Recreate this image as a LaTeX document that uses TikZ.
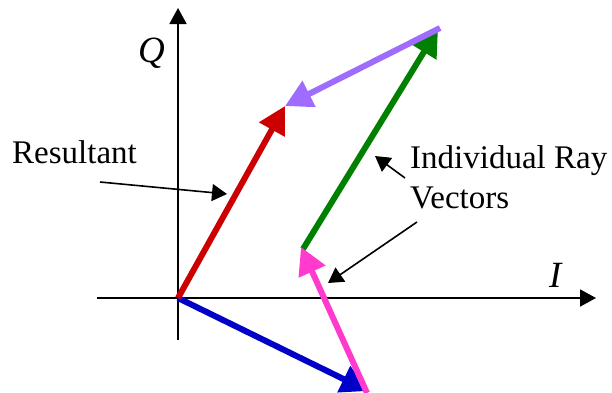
\documentclass[tikz,border=0pt]{standalone}
\usepackage{fontspec}
\setmainfont{Liberation Serif}
\usepackage{xcolor}
\usetikzlibrary{arrows.meta}
\definecolor{resred}{RGB}{204,0,0}
\definecolor{raypurple}{RGB}{160,108,255}
\definecolor{raygreen}{RGB}{0,128,0}
\definecolor{raypink}{RGB}{255,58,205}
\definecolor{rayblue}{RGB}{0,0,200}
\tikzset{
  axis/.style={-{Triangle[length=16pt,width=17pt]},line width=1.8pt},
  vec/.style={-{Triangle[length=27pt,width=28pt]},line width=6pt},
  pointer/.style={-{Triangle[length=15pt,width=17pt]},line width=1.6pt},
  callout/.style={font=\fontsize{33}{40}\selectfont,inner sep=0pt,align=left},
  axlabel/.style={font=\fontsize{37}{40}\selectfont\itshape,inner sep=0pt}
}

\begin{document}
\begin{tikzpicture}[x=1pt,y=-1pt]
  \useasboundingbox (0,0) rectangle (612,392);
  % axes
  \coordinate (O) at (178,298);
  \coordinate (xstart) at (97,298);
  \coordinate (xend) at (596,298);
  \coordinate (ystart) at (178,340);
  \coordinate (yend) at (178,8);
  \draw[axis] (xstart) -- (xend);
  \draw[axis] (ystart) -- (yend);
  \node[axlabel,anchor=base west] (Qlab) at (138,62) {Q};
  \node[axlabel,anchor=base west] (Ilab) at (549,287) {I};
  % ray vectors
  \coordinate (blueTip) at (368,391);
  \coordinate (pinkTip) at (301,247);
  \coordinate (greenTip) at (438,29);
  \coordinate (purpleTip) at (285,106);
  \coordinate (pinkStart) at (367,393);
  \coordinate (greenStart) at (303,249);
  \coordinate (purpleStart) at (440,28);
  \draw[vec,rayblue] (O) -- (blueTip);
  \draw[vec,resred] (O) -- (purpleTip);
  \draw[vec,raygreen] (greenStart) -- (greenTip);
  \draw[vec,raypurple] (purpleStart) -- (purpleTip);
  \draw[vec,raypink] (pinkStart) -- (pinkTip);
  % labels
  \node[callout,anchor=base west] (res) at (12,163) {Resultant};
  \node[callout,anchor=base west] (rays) at (410,208) {Individual Ray\\Vectors};
  \coordinate (resTail) at (100,182);
  \coordinate (resHead) at (227,194);
  \coordinate (rayTailA) at (405,178);
  \coordinate (rayHeadA) at (375,156);
  \coordinate (rayTailB) at (417,222);
  \coordinate (rayHeadB) at (328,283);
  \draw[pointer] (resTail) -- (resHead);
  \draw[pointer] (rayTailA) -- (rayHeadA);
  \draw[pointer] (rayTailB) -- (rayHeadB);
\end{tikzpicture}
\end{document}
